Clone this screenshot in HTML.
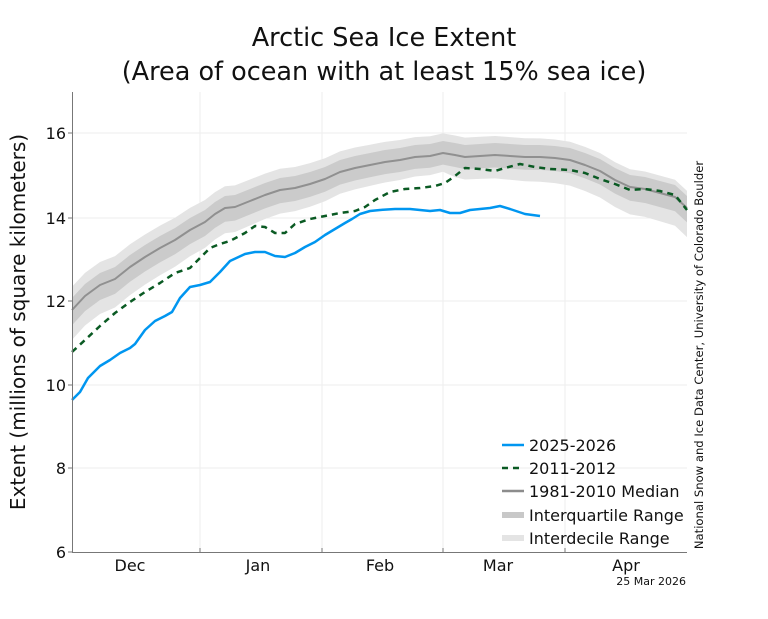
<!DOCTYPE html>
<html><head><meta charset="utf-8"><style>
body{margin:0;background:#fff;}
svg text{font-family:"DejaVu Sans","Liberation Sans",sans-serif;fill:#111;}
</style></head><body>
<svg id="s" width="768" height="614" xmlns="http://www.w3.org/2000/svg">
<text x="384" y="46" font-size="25.5" text-anchor="middle">Arctic Sea Ice Extent</text>
<text x="384" y="80" font-size="25.5" text-anchor="middle">(Area of ocean with at least 15% sea ice)</text>
<g stroke="#eee" stroke-width="1">
<line x1="200" y1="92" x2="200" y2="552"/><line x1="322" y1="92" x2="322" y2="552"/>
<line x1="443" y1="92" x2="443" y2="552"/><line x1="565" y1="92" x2="565" y2="552"/>
<line x1="72" y1="133" x2="687" y2="133"/><line x1="72" y1="218" x2="687" y2="218"/>
<line x1="72" y1="301" x2="687" y2="301"/><line x1="72" y1="385" x2="687" y2="385"/>
<line x1="72" y1="468" x2="687" y2="468"/>
</g>
<g id="bands"></g>
<g id="lines"></g>
<line x1="72.5" y1="92" x2="72.5" y2="552" stroke="#777"/>
<line x1="72" y1="552.5" x2="687" y2="552.5" stroke="#777"/>
<g stroke="#777"><line x1="200" y1="548" x2="200" y2="552"/><line x1="322" y1="548" x2="322" y2="552"/><line x1="443" y1="548" x2="443" y2="552"/><line x1="565" y1="548" x2="565" y2="552"/>
<line x1="68" y1="133" x2="72" y2="133"/><line x1="68" y1="218" x2="72" y2="218"/><line x1="68" y1="301" x2="72" y2="301"/><line x1="68" y1="385" x2="72" y2="385"/><line x1="68" y1="468" x2="72" y2="468"/><line x1="68" y1="552" x2="72" y2="552"/></g>
<g font-size="16" text-anchor="end">
<text x="66" y="139">16</text><text x="66" y="224">14</text><text x="66" y="307">12</text><text x="66" y="391">10</text><text x="66" y="474">8</text><text x="66" y="558">6</text></g>
<g font-size="16" text-anchor="middle">
<text x="130" y="571">Dec</text><text x="258" y="571">Jan</text><text x="380" y="571">Feb</text><text x="498" y="571">Mar</text><text x="626" y="571">Apr</text></g>
<text x="686" y="585" font-size="11" text-anchor="end">25 Mar 2026</text>
<text transform="translate(25,322) rotate(-90)" font-size="20" text-anchor="middle">Extent (millions of square kilometers)</text>
<text transform="translate(703,355) rotate(-90)" font-size="11.6" text-anchor="middle">National Snow and Ice Data Center, University of Colorado Boulder</text>
<g font-size="16">
<line x1="502" y1="445" x2="524" y2="445" stroke="#0096f0" stroke-width="2.5"/><text x="529" y="451">2025-2026</text>
<line x1="502" y1="468" x2="524" y2="468" stroke="#0a5a23" stroke-width="2.5" stroke-dasharray="6,5"/><text x="529" y="474">2011-2012</text>
<line x1="502" y1="491" x2="524" y2="491" stroke="#8c8c8c" stroke-width="2.5"/><text x="529" y="497">1981-2010 Median</text>
<line x1="502" y1="515" x2="524" y2="515" stroke="#c8c8c8" stroke-width="6"/><text x="529" y="521">Interquartile Range</text>
<line x1="502" y1="538" x2="524" y2="538" stroke="#e4e4e4" stroke-width="6"/><text x="529" y="544">Interdecile Range</text>
</g>
</svg>
<script>
var med=[[72,310],[85,296],[100,285],[115,279],[130,267],[145,257],[160,248],[175,240],[190,230],[205,222],[215,214],[225,208],[235,207],[250,201],[265,195],[280,190],[295,188],[310,184],[325,179],[340,172],[355,168],[370,165],[385,162],[400,160],[415,157],[430,156],[443,153],[455,155],[465,157],[480,156],[495,155],[510,156],[525,157],[540,157],[555,158],[570,160],[585,165],[600,171],[615,180],[630,187],[645,189],[660,193],[675,197],[687,208]];
var blue=[[72,400],[80,392],[88,378],[100,366],[110,360],[120,353],[130,348],[135,344],[145,330],[155,321],[165,316],[172,312],[180,298],[190,287],[200,285],[210,282],[220,272],[230,261],[245,254],[255,252],[265,252],[275,256],[285,257],[295,253],[305,247],[315,242],[325,235],[335,229],[345,223],[352,219],[360,214],[370,211],[380,210],[395,209],[410,209],[420,210],[430,211],[440,210],[450,213],[460,213],[470,210],[480,209],[490,208],[500,206],[510,209],[525,214],[540,216]];
var grn=[[72,352],[85,340],[100,326],[115,313],[130,302],[145,292],[160,283],[175,273],[190,268],[200,258],[210,248],[220,244],[230,241],[245,233],[255,226],[265,227],[275,233],[285,233],[295,224],[310,219],[325,216],[340,213],[355,211],[365,207],[375,200],[390,192],[405,189],[420,188],[435,186],[445,183],[455,176],[465,168],[480,169],[495,171],[505,168],[520,164],[535,167],[550,169],[570,170],[585,173],[600,179],[615,184],[630,190],[645,189],[660,191],[675,195],[687,210]];
function band(u,d){var up=med.map(p=>p[0]+','+(p[1]-u(p[0]))),dn=med.slice().reverse().map(p=>p[0]+','+(p[1]+d(p[0])));return up.concat(dn).join(' ');}
var b=document.getElementById('bands');
var ns='http://www.w3.org/2000/svg';
function poly(pts,f){var e=document.createElementNS(ns,'polygon');e.setAttribute('points',pts);e.setAttribute('fill',f);b.appendChild(e);}
poly(band(x=>24-x*0.01,x=>x<450?32-x*0.03:22+(x-450)*0.03),'#e4e4e4');
poly(band(x=>12,x=>x<450?16-x*0.01:12+(x-450)*0.01),'#cbcbcb');
var L=document.getElementById('lines');
function pl(d,c,w,da){var e=document.createElementNS(ns,'polyline');e.setAttribute('points',d.map(p=>p.join(',')).join(' '));e.setAttribute('fill','none');e.setAttribute('stroke',c);e.setAttribute('stroke-width',w);e.setAttribute('stroke-linejoin','round');if(da)e.setAttribute('stroke-dasharray',da);L.appendChild(e);}
pl(med,'#909090',2);
pl(grn,'#0a5a23',2.5,'6,5');
pl(blue,'#0096f0',2.5);
</script>
</body></html>
